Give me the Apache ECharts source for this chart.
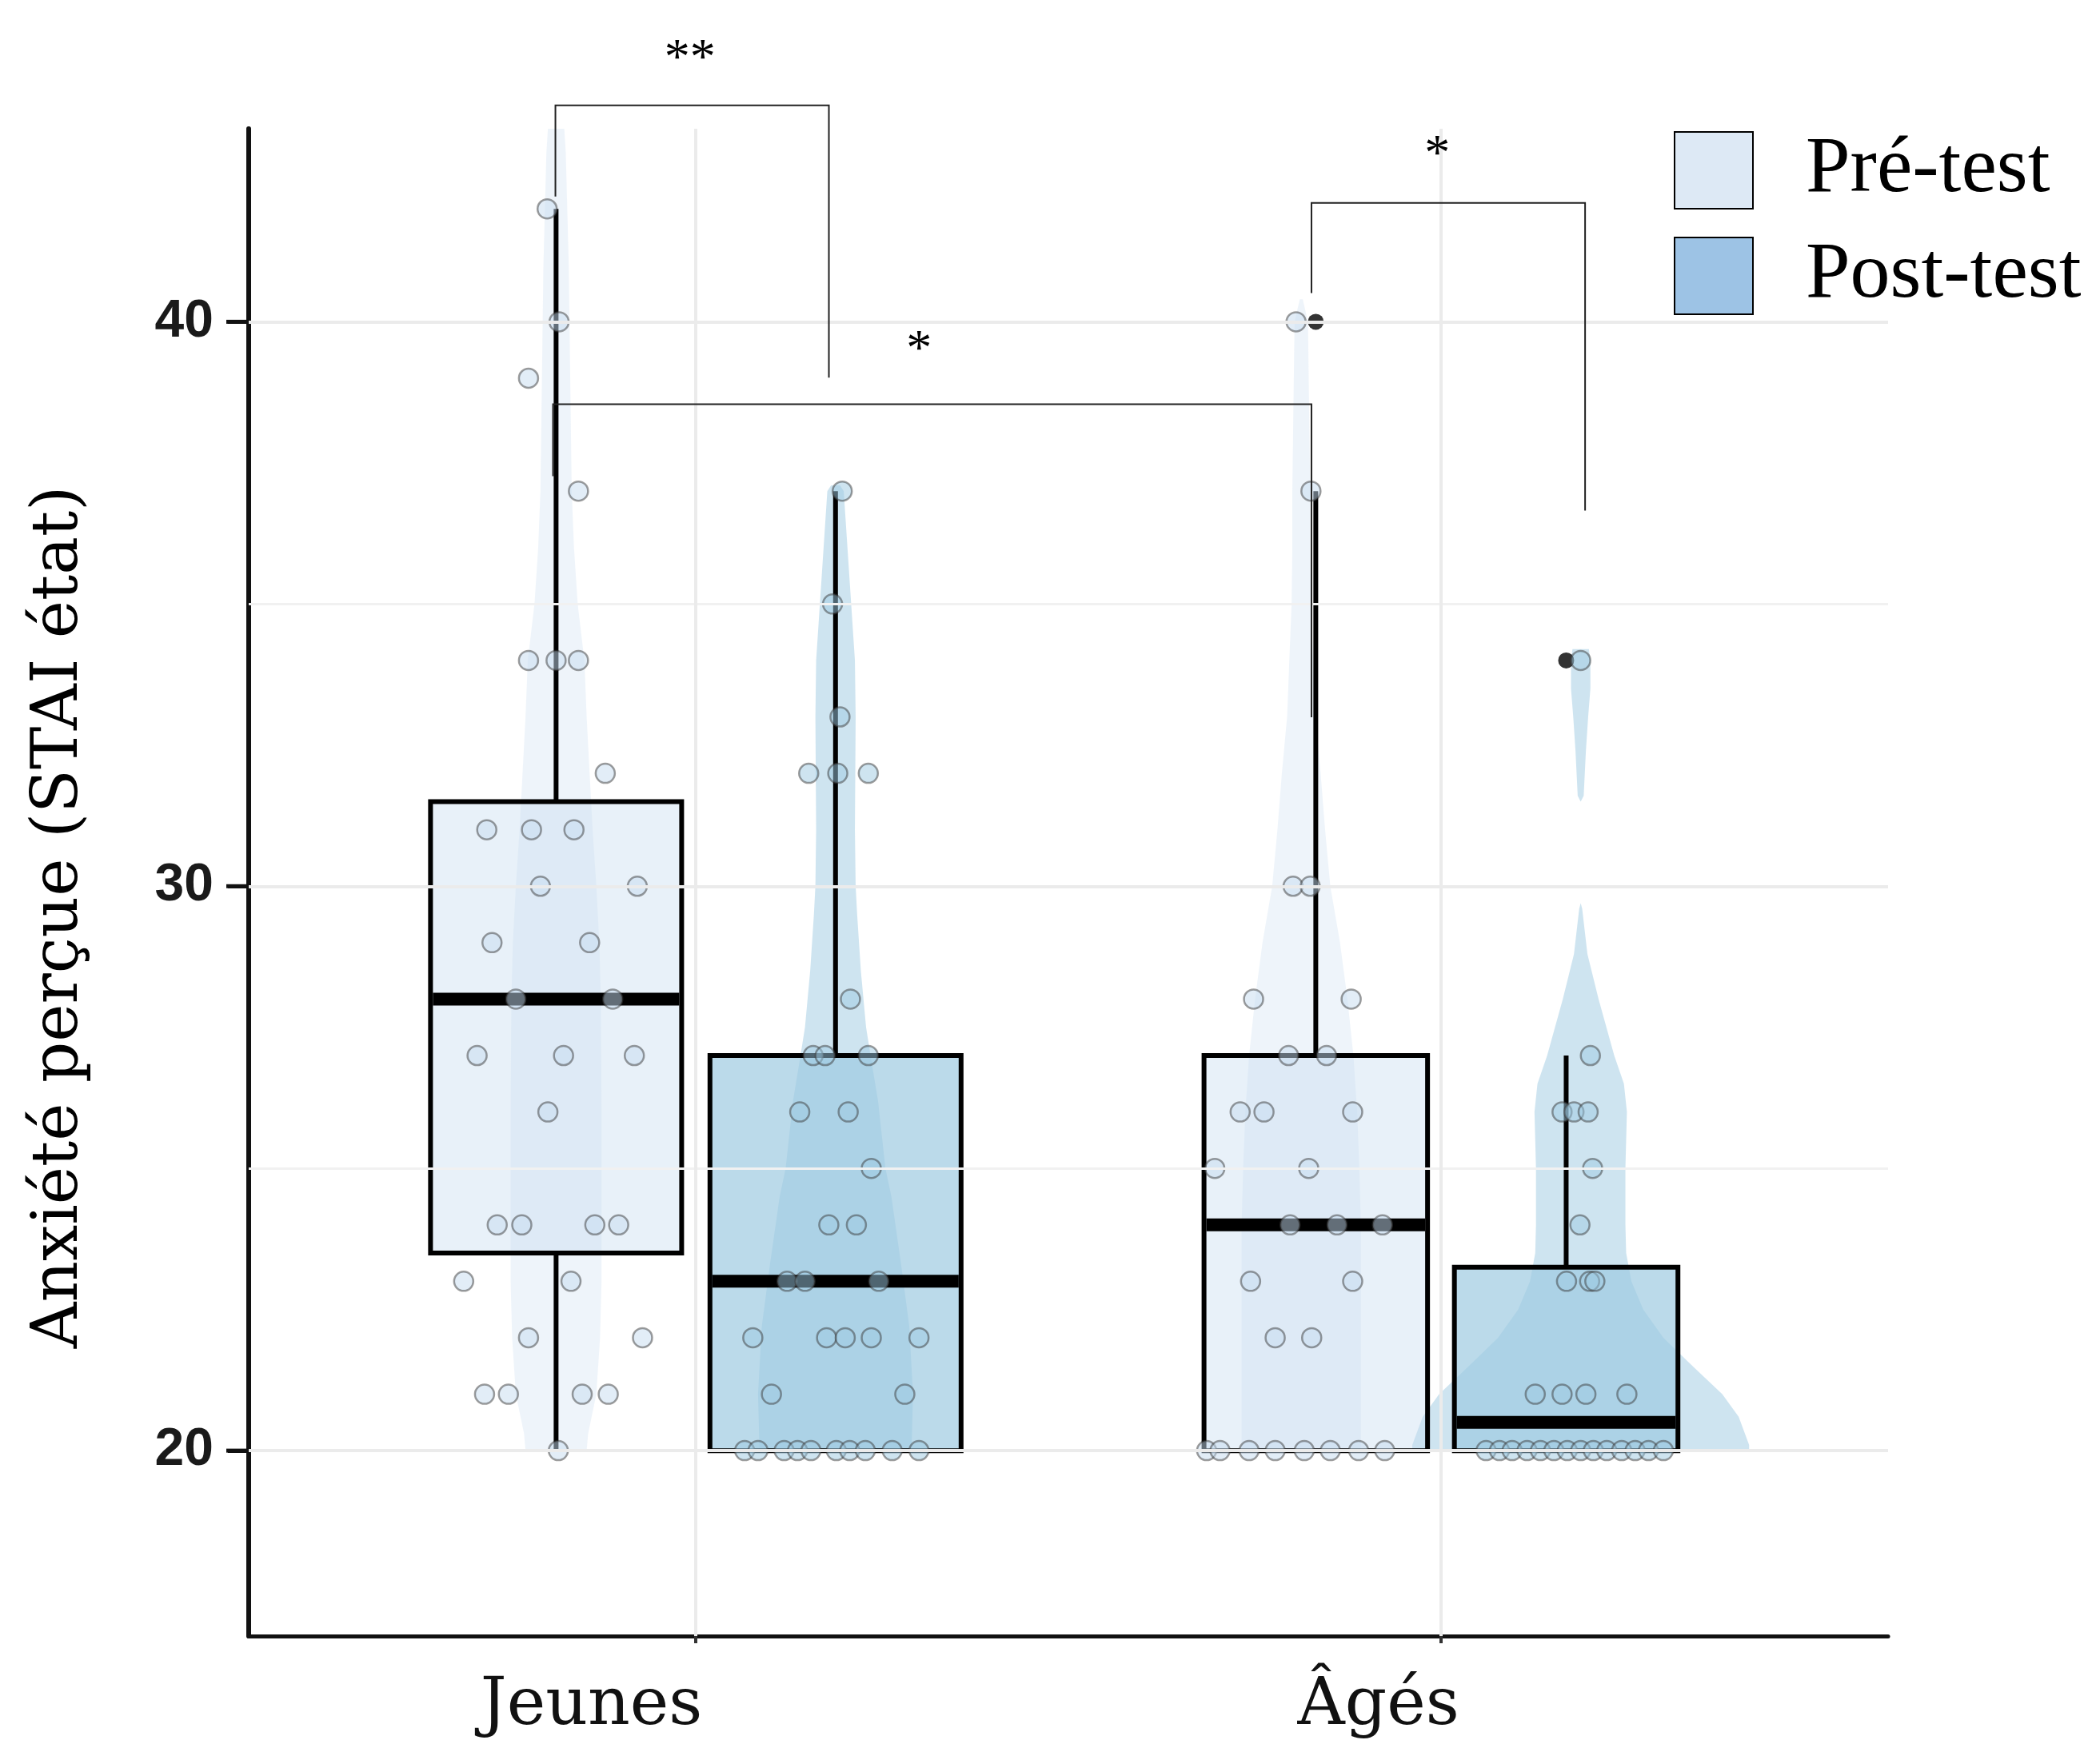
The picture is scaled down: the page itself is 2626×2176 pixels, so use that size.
<!DOCTYPE html>
<html><head><meta charset="utf-8">
<script src="https://cdn.jsdelivr.net/npm/echarts@6/dist/echarts.min.js"></script>
<style>html,body{margin:0;padding:0;background:#fff}#c{width:2626px;height:2176px}</style>
</head><body><div id="c"></div>
<script>
// ---------------- DATA ----------------
const groups = ['Jeunes', 'Âgés'];
const times = ['Pré-test', 'Post-test'];
const yTicks = [20, 30, 40];
const yTitle = 'Anxiété perçue (STAI état)';

// individual scores and their horizontal jitter (x units)
const jeunesPre = [42,40,39,37,34,34,34,32,31,31,31,30,30,29,29,28,28,27,27,27,26,24,24,24,24,23,23,22,22,21,21,21,21,20];
const jeunesPreJit = [-0.012,0.004,-0.037,0.030,-0.037,0,0.030,0.066,-0.093,-0.033,0.024,-0.021,0.109,-0.086,0.045,-0.054,0.076,-0.106,0.010,0.105,-0.011,-0.079,-0.046,0.052,0.084,-0.124,0.020,-0.037,0.116,-0.096,-0.064,0.035,0.070,0.003];
const jeunesPost = [37,35,33,32,32,32,28,27,27,27,26,26,25,24,24,23,23,23,22,22,22,22,22,21,21,20,20,20,20,20,20,20,20,20,20];
const jeunesPostJit = [0.009,-0.004,0.006,-0.036,0.003,0.044,0.020,-0.030,-0.014,0.044,-0.048,0.017,0.048,-0.009,0.028,-0.065,-0.041,0.058,-0.111,-0.012,0.013,0.048,0.112,-0.086,0.093,-0.122,-0.104,-0.069,-0.051,-0.033,0.001,0.019,0.040,0.076,0.112];
const agesPre = [40,37,30,30,28,28,27,27,26,26,26,25,25,24,24,24,23,23,22,22,20,20,20,20,20,20,20,20];
const agesPreJit = [-0.007,0.013,-0.011,0.012,-0.064,0.067,-0.017,0.034,-0.082,-0.050,0.069,-0.116,0.010,-0.015,0.048,0.109,-0.068,0.069,-0.035,0.014,-0.127,-0.109,-0.070,-0.035,0.004,0.039,0.077,0.112];
const agesPost = [34,27,26,26,26,25,24,23,23,23,21,21,21,21,20,20,20,20,20,20,20,20,20,20,20,20,20,20];
const agesPostJit = [0,0.013,-0.025,-0.009,0.010,0.016,-0.001,-0.019,0.012,0.019,-0.061,-0.025,0.007,0.062,-0.127,-0.109,-0.092,-0.072,-0.054,-0.036,-0.018,0.000,0.017,0.035,0.055,0.073,0.091,0.111];

// box statistics [lower whisker, Q1, median, Q3, upper whisker]
const jeunesPreBox = [20, 23.5, 28, 31.5, 42];
const jeunesPostBox = [20, 20, 23, 27, 37];
const agesPreBox = [20, 20, 24, 27, 37];
const agesPostBox = [20, 20, 20.5, 23.25, 27];
const jeunesPreOut = [];
const jeunesPostOut = [];
const agesPreOut = [40];
const agesPostOut = [34];

// violin outlines [score, half width in x units]
const jeunesPreViolin = [[43.42,0.011],[43,0.013],[42,0.015],[41,0.017],[40,0.018],[39,0.019],[38,0.020],[37,0.021],[36,0.024],[35,0.029],[34,0.038],[33,0.041],[32,0.045],[31,0.049],[30,0.054],[29,0.058],[28,0.060],[26,0.061],[24,0.061],[23,0.061],[22,0.059],[21,0.054],[20.3,0.043],[20,0.041]];
const jeunesPostViolin = [[37.1,0.006],[37,0.011],[36.2,0.015],[35,0.021],[34,0.026],[33,0.027],[31,0.026],[30,0.027],[29.5,0.029],[28.5,0.034],[27.5,0.041],[27,0.047],[26.2,0.057],[25,0.067],[24.5,0.075],[23.3,0.088],[22.2,0.099],[21,0.104],[20,0.102]];
const agesPreViolin = [[40.4,0.002],[40,0.009],[39,0.010],[38,0.011],[37,0.012],[36,0.012],[35,0.013],[34,0.016],[33,0.019],[32,0.026],[31,0.032],[30,0.039],[29,0.052],[28,0.062],[27,0.070],[26,0.075],[25,0.078],[24,0.080],[22,0.080],[20,0.080]];
const agesPostViolin = [[34.2,0.011],[34,0.013],[33.5,0.013],[33,0.010],[32.4,0.007],[31.6,0.004],[31.5,0],[29.7,0],[29.6,0.002],[28.8,0.009],[28,0.024],[27,0.045],[26.5,0.058],[26,0.062],[25,0.060],[24,0.060],[23.5,0.061],[23,0.068],[22.5,0.084],[22,0.111],[21.5,0.150],[21,0.190],[20.6,0.212],[20.1,0.226],[20,0.226]];

// significance brackets: [x left, x right, y top, y left end, y right end, label, label x, label y]
const brackets = [
  [0.8116, 1.1786, 43.834, 42.218, 39.011, '**', 0.992, 44.79],
  [0.8084, 1.8262, 38.539, 37.265, 32.992, '*', 1.2995, 39.63],
  [1.8262, 2.1934, 42.105, 40.509, 36.656, '*', 1.995, 43.09]
];

// ---------------- LAYOUT / STYLE ----------------
const xMin = 0.4, xMax = 2.6, yMin = 16.715, yMax = 43.42;
const violinDodge = 0.1875;
const boxDodge = [0.1875, 0.168];
const boxHalf = [0.1685, 0.15];
const xLabelPos = [0.86, 1.916];
const baseCol = [[198,219,239],[158,202,225]];
const legendCol = ['#dde9f5', '#9dc3e5'];
const rgba = (c, a) => `rgba(${c[0]},${c[1]},${c[2]},${a})`;

const pts = [[jeunesPre, jeunesPost],[agesPre, agesPost]];
const jits = [[jeunesPreJit, jeunesPostJit],[agesPreJit, agesPostJit]];
const boxes = [[jeunesPreBox, jeunesPostBox],[agesPreBox, agesPostBox]];
const outs = [[jeunesPreOut, jeunesPostOut],[agesPreOut, agesPostOut]];
const violins = [[jeunesPreViolin, jeunesPostViolin],[agesPreViolin, agesPostViolin]];

const cells = [];
groups.forEach((g, gi) => times.forEach((t, ti) => {
  const s = ti === 0 ? -1 : 1;
  cells.push({gi, ti, vx: gi + 1 + s * violinDodge, bx: gi + 1 + s * boxDodge[gi], half: boxHalf[gi]});
}));

const series = [];
// gridlines
series.push({
  type: 'line', name: '_grid', data: [], z: 0, silent: true, animation: false,
  markLine: {
    silent: true, symbol: ['none','none'], label: {show: false}, animation: false,
    data: [
      {yAxis: 20, lineStyle: {color: '#ebebeb', width: 4, type: 'solid'}},
      {yAxis: 25, lineStyle: {color: '#f1f1f1', width: 3, type: 'solid'}},
      {yAxis: 30, lineStyle: {color: '#ebebeb', width: 4, type: 'solid'}},
      {yAxis: 35, lineStyle: {color: '#f1f1f1', width: 3, type: 'solid'}},
      {yAxis: 40, lineStyle: {color: '#ebebeb', width: 4, type: 'solid'}},
      {xAxis: 1, lineStyle: {color: '#ebebeb', width: 4, type: 'solid'}},
      {xAxis: 2, lineStyle: {color: '#ebebeb', width: 4, type: 'solid'}}
    ]
  }
});

// violins
times.forEach((t, ti) => {
  const myCells = cells.filter(c => c.ti === ti);
  series.push({
    type: 'custom', name: t, z: 1, animation: false, silent: true,
    data: myCells.map(c => [c.vx, 20]),
    renderItem: (params, api) => {
      const c = myCells[params.dataIndex];
      const prof = violins[c.gi][c.ti];
      const right = prof.map(p => api.coord([c.vx + p[1], p[0]]));
      const left = prof.slice().reverse().map(p => api.coord([c.vx - p[1], p[0]]));
      return {type: 'polygon', shape: {points: right.concat(left)},
        style: {fill: rgba(baseCol[ti], ti === 0 ? 0.3 : 0.5), stroke: null}};
    }
  });
});

// boxes
series.push({
  type: 'custom', name: '_box', z: 2, animation: false, silent: true,
  data: cells.map(c => [c.bx, 20]),
  renderItem: (params, api) => {
    const c = cells[params.dataIndex];
    const b = boxes[c.gi][c.ti];
    const tl = api.coord([c.bx - c.half, b[3]]);
    const br = api.coord([c.bx + c.half, b[1]]);
    const lo = api.coord([c.bx, b[0]]), q1 = api.coord([c.bx, b[1]]);
    const q3 = api.coord([c.bx, b[3]]), hi = api.coord([c.bx, b[4]]);
    const mL = api.coord([c.bx - c.half, b[2]]), mR = api.coord([c.bx + c.half, b[2]]);
    const kids = [
      {type: 'rect', shape: {x: tl[0], y: tl[1], width: br[0] - tl[0], height: br[1] - tl[1]},
        style: {fill: rgba(baseCol[c.ti], c.ti === 0 ? 0.4 : 0.7), stroke: '#000', lineWidth: 6}},
      {type: 'line', shape: {x1: q3[0], y1: q3[1], x2: hi[0], y2: hi[1]}, style: {stroke: '#000', lineWidth: 6}},
      {type: 'line', shape: {x1: q1[0], y1: q1[1], x2: lo[0], y2: lo[1]}, style: {stroke: '#000', lineWidth: 6}},
      {type: 'line', shape: {x1: mL[0] + 3, y1: mL[1], x2: mR[0] - 3, y2: mR[1]}, style: {stroke: '#000', lineWidth: 16, lineCap: 'butt'}}
    ];
    return {type: 'group', children: kids};
  }
});

// outliers
series.push({
  type: 'scatter', name: '_out', z: 3, animation: false, silent: true,
  symbol: 'circle', symbolSize: 20,
  itemStyle: {color: '#333', opacity: 1},
  data: cells.flatMap(c => outs[c.gi][c.ti].map(v => [c.bx, v]))
});

// jittered points
times.forEach((t, ti) => {
  series.push({
    type: 'scatter', name: t, z: 4, animation: false, silent: true,
    symbol: 'circle', symbolSize: 24,
    itemStyle: {color: rgba(baseCol[ti], 0.5), borderColor: 'rgba(60,60,60,0.5)', borderWidth: 2.5, opacity: 1},
    data: cells.filter(c => c.ti === ti).flatMap(c => pts[c.gi][c.ti].map((v, k) => [c.vx + jits[c.gi][c.ti][k], v]))
  });
});

// brackets
series.push({
  type: 'custom', name: '_br', z: 6, clip: false, animation: false, silent: true,
  data: brackets.map(b => [b[0], b[3]]),
  renderItem: (params, api) => {
    const b = brackets[params.dataIndex];
    const a = api.coord([b[0], b[3]]), c = api.coord([b[0], b[2]]);
    const d = api.coord([b[1], b[2]]), e = api.coord([b[1], b[4]]);
    const t = api.coord([b[6], b[7]]);
    return {type: 'group', children: [
      {type: 'polyline', shape: {points: [a, c, d, e]}, style: {stroke: '#222', lineWidth: 2, fill: null}},
      {type: 'text', x: t[0], y: t[1] + 11, style: {text: b[5], font: '64px "Liberation Serif"', fill: '#000', align: 'center', verticalAlign: 'middle'}}
    ]};
  }
});

const titleGraphic = {
  type: 'text', id: 'ytitle', x: 75, y: 1147, rotation: Math.PI / 2, silent: true,
  style: {text: yTitle, font: '80px "DejaVu Serif"', fill: '#000', align: 'center', verticalAlign: 'middle'}
};

const option = {
  animation: false,
  backgroundColor: '#fff',
  grid: {left: 311, right: 265, top: 161, bottom: 125, containLabel: false},
  xAxis: {
    type: 'value', min: xMin, max: xMax,
    axisLine: {show: true, onZero: false, lineStyle: {color: '#111', width: 5}},
    axisTick: {show: true, customValues: [1, 2], length: 9, lineStyle: {color: '#333', width: 4}},
    axisLabel: {
      customValues: xLabelPos,
      formatter: v => { let k = 0; xLabelPos.forEach((p, i) => { if (Math.abs(p - v) < Math.abs(xLabelPos[k] - v)) k = i; }); return groups[k]; },
      fontFamily: 'DejaVu Serif', fontSize: 82, color: '#111', margin: 48
    },
    splitLine: {show: false}
  },
  yAxis: {
    type: 'value', min: yMin, max: yMax,
    axisLine: {show: true, onZero: false, lineStyle: {color: '#111', width: 6}},
    axisTick: {show: true, customValues: yTicks, length: 26, lineStyle: {color: '#111', width: 5}},
    axisLabel: {customValues: yTicks, fontFamily: '"Liberation Sans Narrow", "Liberation Sans"', fontWeight: 'bold', fontSize: 66, color: '#1a1a1a', margin: 44},
    splitLine: {show: false}
  },
  legend: {
    orient: 'vertical', left: 2088, top: 158, itemWidth: 98, itemHeight: 96, itemGap: 32,
    selectedMode: false, icon: 'rect',
    textStyle: {fontFamily: 'Liberation Serif', fontSize: 100, color: '#000', lineHeight: 96, padding: [0, 0, 0, 61]},
    data: times.map((t, i) => ({name: t, icon: 'rect', itemStyle: {color: legendCol[i], borderColor: '#000', borderWidth: 2}}))
  },
  graphic: [titleGraphic],
  series
};

const chart = echarts.init(document.getElementById('c'), null, {renderer: 'canvas', width: 2626, height: 2176});
chart.setOption(option);

// y-axis tick marks placed through the axis scale
const tickGraphics = yTicks.map((v, i) => {
  const p = chart.convertToPixel({gridIndex: 0}, [xMin, v]);
  return {type: 'line', id: 'ytick' + i, z: 100, silent: true,
    shape: {x1: p[0] - 28, y1: p[1], x2: p[0], y2: p[1]},
    style: {stroke: '#111', lineWidth: 5}};
});
chart.setOption({graphic: [titleGraphic].concat(tickGraphics)});
</script>
</body></html>
